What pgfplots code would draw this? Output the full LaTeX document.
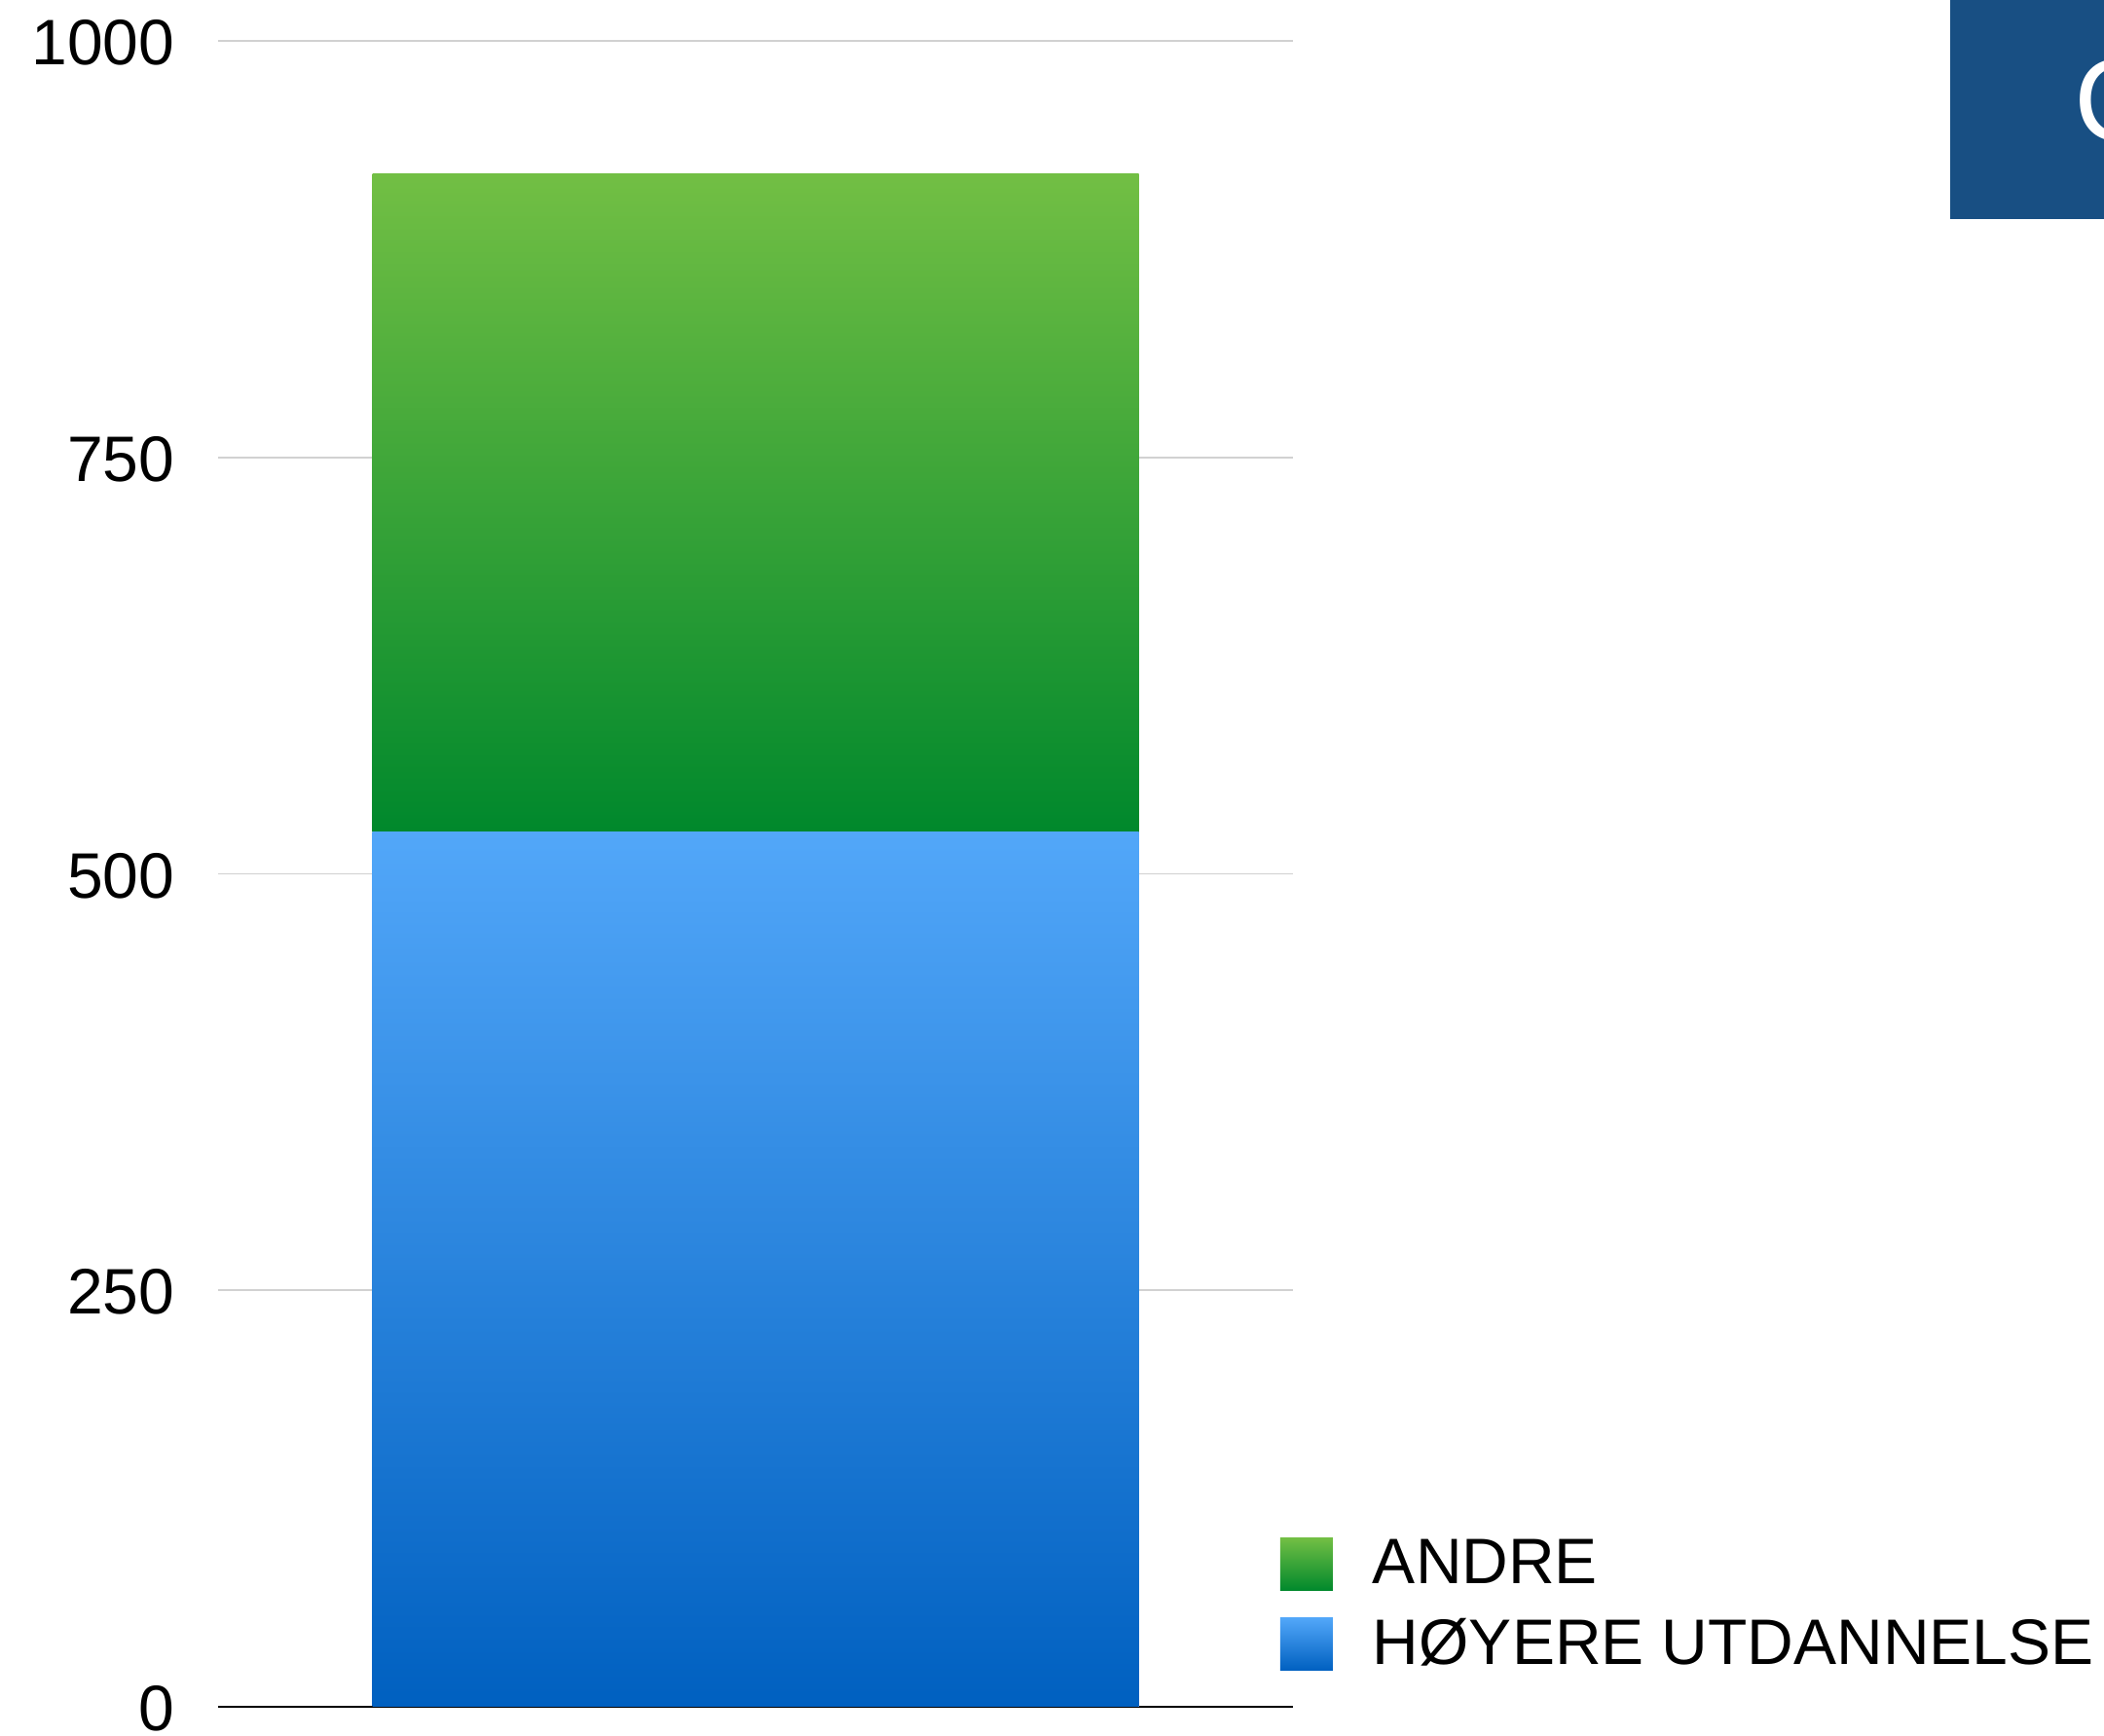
\documentclass[border=0pt]{standalone}
\usepackage{pgfplots}
\pgfplotsset{compat=1.18}
\usepackage{fontspec}
\setmainfont{Liberation Sans}
\definecolor{gtop}{RGB}{114,191,68}
\definecolor{gbot}{RGB}{0,136,44}
\definecolor{btop}{RGB}{82,167,249}
\definecolor{bbot}{RGB}{0,96,192}
\definecolor{boxblue}{RGB}{24,79,131}
\begin{document}
\begin{tikzpicture}
\path[use as bounding box] (-56pt,-7.5pt) rectangle (484.25pt,438.25pt);
\begin{axis}[at={(0,0)}, anchor=south west, scale only axis,
  width=276pt, height=427.75pt,
  xmin=-0.7, xmax=0.7, ymin=0, ymax=1000,
  axis x line*=bottom, axis y line*=left,
  y axis line style={draw=none},
  x axis line style={line width=0.7pt, black},
  xtick=\empty,
  ytick={0,250,500,750,1000}, yticklabels={0,250,500,750,1000},
  major tick length=0pt,
  ymajorgrids, grid style={line width=0.45pt, color=black!18},
  yticklabel style={anchor=east, inner sep=0pt, xshift=-11pt, yshift=-0.5pt, font=\fontsize{16.5}{18}\selectfont},
  ybar stacked, bar width=196.75pt,
  reverse legend,
  legend cell align=left,
  legend style={at={(rel axis cs:0.9882,0.1014)}, anchor=north west, draw=none, fill=none,
    inner sep=0pt, outer sep=0pt, row sep=7pt,
    nodes={inner sep=0pt, font=\fontsize{16.5}{18}\selectfont}},
]
\addplot+[draw=none, top color=btop, bottom color=bbot,
  legend image code/.code={\path[top color=btop,bottom color=bbot] (0pt,-6.75pt) rectangle (13.5pt,6.75pt); \path (23.75pt,0pt);}]
  coordinates {(0,525)};
\addlegendentry{HØYERE UTDANNELSE}
\addplot+[draw=none, top color=gtop, bottom color=gbot,
  legend image code/.code={\path[top color=gtop,bottom color=gbot] (0pt,-6.75pt) rectangle (13.5pt,6.75pt); \path (23.75pt,0pt);}]
  coordinates {(0,395)};
\addlegendentry{ANDRE}
\end{axis}
\fill[boxblue] (444.75pt,382pt) rectangle (484.25pt,438.25pt);
\begin{scope}
\clip (444.75pt,382pt) rectangle (484.25pt,438.25pt);
\node[anchor=base west, inner sep=0pt, text=white, font=\fontsize{30}{30}\selectfont] at (476.5pt,402pt) {C};
\end{scope}
\end{tikzpicture}
\end{document}
